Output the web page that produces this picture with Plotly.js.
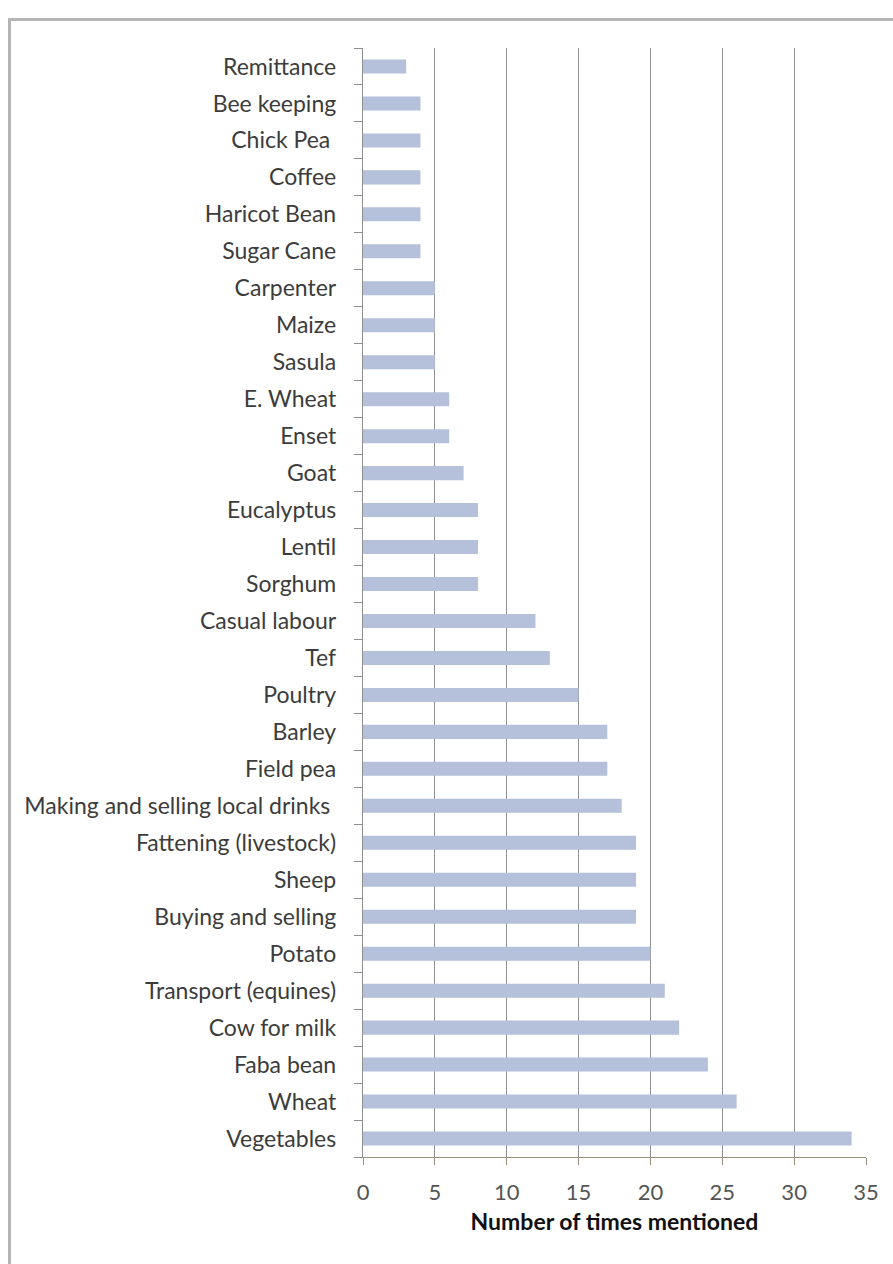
<!DOCTYPE html>
<html>
<head>
<meta charset="utf-8">
<script src="https://cdn.plot.ly/plotly-3.0.1.min.js"></script>
<style>
  html, body { margin: 0; padding: 0; background: #ffffff; }
  #wrap { position: relative; width: 893px; height: 1264px; overflow: hidden; }
  #chart { position: absolute; left: 0; top: 0; width: 893px; height: 1264px; }
  #frame {
    position: absolute; left: 8px; top: 18px; width: 900px; height: 1300px;
    border-left: 3px solid #b4b4b4; border-top: 3px solid #b4b4b4;
    pointer-events: none;
  }
</style>
</head>
<body>
<div id="wrap">
  <div id="chart"></div>
  <div id="frame"></div>
</div>
<script>
// Income sources, listed top to bottom
const activities = [
  "Remittance", "Bee keeping", "Chick Pea ", "Coffee", "Haricot Bean",
  "Sugar Cane", "Carpenter", "Maize", "Sasula", "E. Wheat",
  "Enset", "Goat", "Eucalyptus", "Lentil", "Sorghum",
  "Casual labour", "Tef", "Poultry", "Barley", "Field pea",
  "Making and selling local drinks ", "Fattening (livestock)", "Sheep", "Buying and selling", "Potato",
  "Transport (equines)", "Cow for milk", "Faba bean", "Wheat", "Vegetables"
];
const timesMentioned = [
  3, 4, 4, 4, 4,
  4, 5, 5, 5, 6,
  6, 7, 8, 8, 8,
  12, 13, 15, 17, 17,
  18, 19, 19, 19, 20,
  21, 22, 24, 26, 34
];
const xTickValues = [0, 5, 10, 15, 20, 25, 30, 35];

const trace = {
  type: "bar",
  orientation: "h",
  y: activities,
  x: timesMentioned,
  marker: { color: "#b5c0da", line: { width: 0 } },
  hoverinfo: "x+y"
};

const layout = {
  width: 893,
  height: 1264,
  margin: { l: 363, r: 27, t: 48, b: 107, pad: 0 },
  paper_bgcolor: "#ffffff",
  plot_bgcolor: "#ffffff",
  showlegend: false,
  bargap: 0.62,
  font: { family: "Lato, 'Open Sans', sans-serif", color: "#404040" },
  xaxis: {
    range: [0, 35],
    tickvals: xTickValues,
    ticktext: xTickValues.map(String),
    showgrid: true,
    gridcolor: "#8f8f8f",
    gridwidth: 1.2,
    zeroline: false,
    showline: true,
    linecolor: "#9a9080",
    linewidth: 1.2,
    ticks: "outside",
    ticklen: 7,
    tickcolor: "#9a9080",
    ticklabelstandoff: 8,
    tickfont: { size: 22, color: "#555555" },
    title: {
      text: "Number of times mentioned",
      font: { size: 23, color: "#111111", family: "Lato, 'Open Sans', sans-serif", weight: "bold" },
      standoff: 10
    },
    fixedrange: true
  },
  yaxis: {
    type: "category",
    categoryorder: "array",
    categoryarray: activities.slice().reverse(),
    autorange: false,
    range: [-0.5, activities.length - 0.5],
    showgrid: false,
    zeroline: false,
    showline: true,
    linecolor: "#8f8f8f",
    linewidth: 1.2,
    ticks: "outside",
    tickson: "boundaries",
    ticklen: 8,
    tickcolor: "#8f8f8f",
    ticklabelstandoff: 21,
    tickfont: { size: 23, color: "#3c3c3c" },
    fixedrange: true
  }
};

Plotly.newPlot("chart", [trace], layout, { displayModeBar: false, staticPlot: true });
</script>
</body>
</html>
